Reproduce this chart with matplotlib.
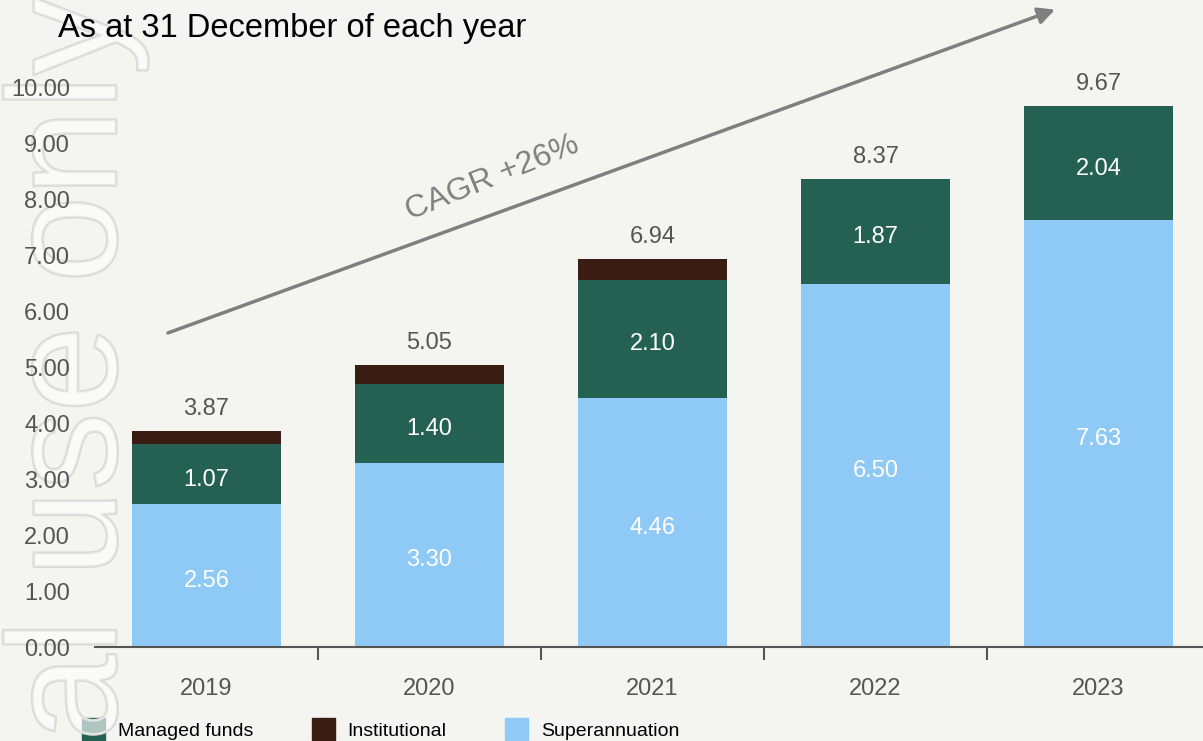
import numpy as np
import matplotlib.pyplot as plt
import matplotlib.patheffects as pe
from matplotlib.patches import Patch

# *****************************************************************************

YEARS = ['2019', '2020', '2021', '2022', '2023']
SUPER = [2.56, 3.30, 4.46, 6.50, 7.63]
MANAGED = [1.07, 1.40, 2.10, 1.87, 2.04]
INSTIT = [0.24, 0.35, 0.38, 0.00, 0.00]
TOTALS = [3.87, 5.05, 6.94, 8.37, 9.67]

C_SUPER = '#8fc9f5'
C_MANAGED = '#246153'
C_INSTIT = '#3a1d12'
C_BG = '#f4f4f0'

# *****************************************************************************


def make_fig():

    plt.rcParams['font.family'] = ['Liberation Sans', 'DejaVu Sans']

    fig01 = plt.figure(figsize=(12.03, 7.41), dpi=100, facecolor=C_BG)
    axs01 = fig01.add_axes([95/1203, 94/741, 1115/1203, 615/741])
    axs01.set_facecolor(C_BG)

    xpos = np.arange(len(YEARS))
    sup = np.array(SUPER)
    man = np.array(MANAGED)
    ins = np.array(INSTIT)
    bw = 0.664

    axs01.bar(xpos, sup, width=bw, color=C_SUPER, label='Superannuation')
    axs01.bar(xpos, man, width=bw, bottom=sup, color=C_MANAGED,
              label='Managed funds')
    axs01.bar(xpos, ins, width=bw, bottom=sup+man, color=C_INSTIT,
              label='Institutional')

    # Segment values inside the bars, totals on top
    for k1 in range(len(YEARS)):
        axs01.annotate('{:.2f}'.format(sup[k1]), xy=(xpos[k1], sup[k1]/2),
                       xytext=(0, -4), textcoords='offset points',
                       ha='center', va='center', color='white', fontsize=17)
        axs01.annotate('{:.2f}'.format(man[k1]),
                       xy=(xpos[k1], sup[k1]+man[k1]/2),
                       xytext=(0, -4), textcoords='offset points',
                       ha='center', va='center', color='white', fontsize=17)
        axs01.annotate('{:.2f}'.format(TOTALS[k1]),
                       xy=(xpos[k1], sup[k1]+man[k1]+ins[k1]),
                       xytext=(0, 8), textcoords='offset points',
                       ha='center', va='bottom', color='#555555',
                       fontsize=17)

    axs01.set_xlim(-0.5, len(YEARS)-0.5)
    axs01.set_ylim(0, 11)

    axs01.set_yticks(np.arange(0, 11, 1))
    axs01.set_yticklabels(['{:.2f}'.format(v) for v in np.arange(0, 11, 1)])
    axs01.tick_params(axis='y', length=0, pad=18, labelsize=17,
                      labelcolor='#555555')

    axs01.set_xticks(xpos)
    axs01.set_xticklabels(YEARS)
    axs01.set_xticks(xpos[:-1]+0.5, minor=True)
    axs01.tick_params(axis='x', which='major', length=0, pad=22,
                      labelsize=17, labelcolor='#555555')
    axs01.tick_params(axis='x', which='minor', length=9, width=1.5,
                      color='#555555', direction='out')

    for side in ['top', 'right', 'left']:
        axs01.spines[side].set_visible(False)
    axs01.spines['bottom'].set_color('#555555')
    axs01.spines['bottom'].set_linewidth(1.5)

    # Growth arrow
    axs01.annotate('', xy=(3.805, 11.40), xytext=(-0.173, 5.617),
                   arrowprops=dict(arrowstyle='-|>', mutation_scale=25,
                                   lw=2.5, color='#7f7f7f',
                                   shrinkA=0, shrinkB=0),
                   annotation_clip=False)
    fig01.text(492/1203, 1-178/741, 'CAGR +26%', rotation=22,
               ha='center', va='center', color='#7f7f7f', fontsize=23)

    fig01.text(58/1203, 1-28/741, 'As at 31 December of each year',
               ha='left', va='center', color='black', fontsize=23.5)

    hnd = [Patch(color=C_MANAGED, label='Managed funds'),
           Patch(color=C_INSTIT, label='Institutional'),
           Patch(color=C_SUPER, label='Superannuation')]
    leg = axs01.legend(handles=hnd, loc='center left',
                       bbox_to_anchor=(82/1203, 1-729/741),
                       bbox_transform=fig01.transFigure, ncol=3,
                       frameon=False, fontsize=14, handlelength=1.2,
                       handleheight=1.3, handletextpad=0.65,
                       columnspacing=3.0, borderaxespad=0, borderpad=0)
    leg.set_zorder(1.1)

    # Watermark: over the bars and legend, under the axis labels (axis
    # artists sit at zorder 1.5)
    axs01.text(3/1203, 0/741, 'al use only', rotation=90, ha='left',
               va='bottom', fontsize=112, color=(1, 1, 1, 0.4), zorder=1.3,
               transform=fig01.transFigure, clip_on=False,
               path_effects=[pe.withStroke(linewidth=2.0,
                                           foreground='#d8d8d6')])

    plt.savefig('out.png', dpi=100, facecolor=C_BG)
    plt.close()

    return None

# *****************************************************************************


if (__name__ == "__main__"):

    make_fig()

# *****************************************************************************
